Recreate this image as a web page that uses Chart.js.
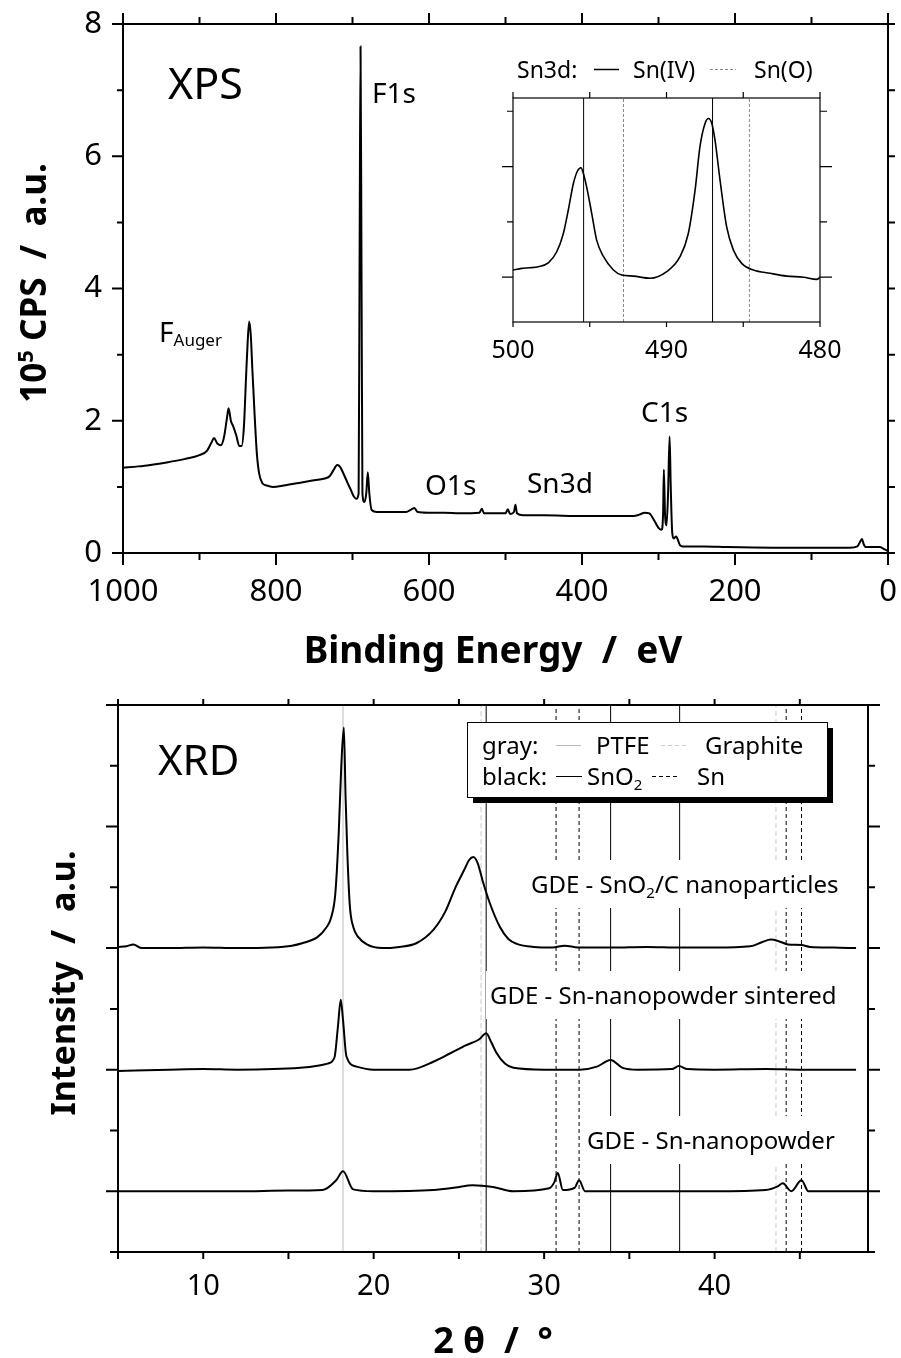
<!DOCTYPE html>
<html>
<head>
<meta charset="utf-8">
<script src="https://cdn.jsdelivr.net/npm/chart.js@4.4.0/dist/chart.umd.min.js"></script>
<style>
body { margin: 0; background: #fff; }
#wrap { position: relative; width: 901px; height: 1358px; }
canvas { position: absolute; }
</style>
</head>
<body>
<div id="wrap">
  <canvas id="xps" width="901" height="680" style="left:0;top:0"></canvas>
  <canvas id="inset" width="420" height="340" style="left:440px;top:40px"></canvas>
  <canvas id="xrd" width="901" height="678" style="left:0;top:680px"></canvas>
</div>
<script>
const FONT = "'Noto Sans', sans-serif";

// ---- XPS survey (binding energy in eV, counts in 10^5 CPS) ----
const xpsEnergy = [1000, 980, 960, 943, 920, 900, 890, 884, 881, 877, 872, 868, 864, 862, 859, 856, 852, 848, 845,
  842, 839, 837, 835, 833, 831, 828, 825, 822, 818, 812, 804, 790, 770, 750, 735, 730, 725, 720, 716, 711, 706,
  702, 698, 695, 692, 690.8, 689.5, 688.2, 687, 684.5, 682, 680, 678, 675, 668, 650, 630, 623, 619, 615, 600, 580,
  560, 534, 531, 528, 500, 497, 494, 489, 487, 485, 477, 450, 400, 360, 333, 325, 318, 312, 306, 300, 296, 294,
  293, 291.5, 289.5, 287.5, 285.5, 284, 282, 280, 277, 275, 272, 268, 240, 211, 150, 80, 50, 40, 36, 34, 32, 29,
  20, 11, 5, 0];
const xpsCounts = [1.29, 1.31, 1.34, 1.37, 1.42, 1.48, 1.55, 1.68, 1.74, 1.66, 1.63, 1.75, 2.05, 2.19, 2.0, 1.92, 1.78,
  1.62, 1.62, 1.9, 2.7, 3.2, 3.5, 3.3, 2.8, 2.1, 1.5, 1.2, 1.06, 1.02, 1.0, 1.02, 1.06, 1.1, 1.13, 1.16, 1.25,
  1.33, 1.3, 1.18, 1.05, 0.95, 0.85, 0.82, 0.9, 4.2, 7.66, 4.2, 0.9, 0.77, 0.9, 1.22, 0.9, 0.65, 0.62, 0.62, 0.62,
  0.66, 0.68, 0.62, 0.61, 0.61, 0.6, 0.61, 0.67, 0.6, 0.6, 0.66, 0.59, 0.62, 0.73, 0.6, 0.57, 0.57, 0.56, 0.56,
  0.56, 0.58, 0.61, 0.6, 0.5, 0.38, 0.35, 0.6, 1.26, 0.6, 0.42, 0.9, 1.76, 1.0, 0.3, 0.22, 0.25, 0.21, 0.12, 0.1,
  0.1, 0.09, 0.08, 0.08, 0.08, 0.1, 0.18, 0.21, 0.14, 0.09, 0.09, 0.09, 0.06, 0.03];
const xpsXLabels = [1000, 800, 600, 400, 200, 0];
const xpsXMinor = [900, 700, 500, 300, 100];
const xpsYLabels = [0, 2, 4, 6, 8];
const xpsYMinor = [1, 3, 5, 7];

// ---- Sn3d detail (inset) ----
const snEnergy = [500, 499.43, 498.9, 498.35, 497.7, 497.15, 496.72, 496.4, 496.07, 495.8, 495.57, 495.42, 495.2,
  494.87, 494.55, 494.1, 493.46, 492.92, 492.16, 491.07, 489.99, 489.12, 488.58, 488.14, 487.82, 487.49, 487.27,
  487.05, 486.84, 486.51, 486.08, 485.64, 485.1, 484.34, 483.25, 482.17, 481.08, 480.21, 480];
const snCounts = [0.13, 0.16, 0.17, 0.19, 0.26, 0.46, 0.79, 1.21, 1.69, 1.92, 1.98, 1.88, 1.63, 1.15, 0.67, 0.37,
  0.13, 0.04, 0.02, -0.02, 0.1, 0.37, 0.79, 1.57, 2.36, 2.78, 2.87, 2.78, 2.48, 1.75, 0.91, 0.49, 0.25, 0.13,
  0.07, 0.02, 0.0, -0.04, 0.0];
const snIVLines = [495.4, 487.0];
const sn0Lines = [492.8, 484.6];
const insetXTicks = [500, 495, 490, 485, 480];
const insetXLabels = [500, 490, 480];
const insetYMajor = [0, 2];
const insetYMinor = [1, 3];

// ---- XRD patterns (2 theta in degrees, offset intensity) ----
const snoCAngle = [5, 5.5, 5.9, 6.4, 8, 10, 12, 14, 15.2, 15.8, 16.7, 17.2, 17.5, 17.75, 17.95, 18.1, 18.25, 18.35,
  18.45, 18.6, 18.8, 19.1, 19.6, 20.5, 21.5, 22.5, 23.5, 24.2, 24.8, 25.3, 25.6, 25.85, 26.1, 26.4, 26.8, 27.4,
  27.9, 28.4, 29.4, 30.5, 31.2, 32, 34, 36, 38, 40, 42.1, 42.8, 43.3, 43.8, 44.3, 45.1, 45.6, 47, 48.3];
const snoCInt = [5.02, 5.03, 5.06, 5.0, 5.0, 5.01, 5.0, 5.01, 5.04, 5.08, 5.18, 5.33, 5.5, 5.9, 6.9, 8.0, 8.63, 7.5,
  6.6, 5.7, 5.35, 5.18, 5.06, 5.0, 5.02, 5.08, 5.3, 5.6, 6.0, 6.28, 6.45, 6.5, 6.4, 6.1, 5.75, 5.35, 5.15, 5.07,
  5.02, 5.01, 5.04, 5.01, 5.01, 5.02, 5.01, 5.01, 5.03, 5.1, 5.14, 5.11, 5.06, 5.05, 5.02, 5.01, 5.0];
const sinterAngle = [5, 8, 10, 12, 15.7, 16.8, 17.3, 17.7, 17.9, 18.07, 18.2, 18.4, 19, 20, 22.1, 23.5, 24.5, 25.4,
  26.2, 26.6, 26.9, 27.2, 27.7, 28.2, 30, 32.1, 33.1, 33.9, 34.6, 35.5, 37.5, 37.9, 38.4, 40, 43, 45, 48.3];
const sinterInt = [2.98, 3.0, 3.01, 3.0, 3.03, 3.07, 3.1, 3.2, 3.7, 4.15, 3.82, 3.22, 3.05, 3.0, 3.0, 3.13, 3.27, 3.4,
  3.5, 3.6, 3.45, 3.28, 3.1, 3.03, 3.0, 3.0, 3.05, 3.16, 3.03, 3.0, 3.01, 3.06, 3.01, 3.0, 3.01, 3.0, 3.0];
const powderAngle = [5, 8, 10, 12, 15, 17, 17.8, 18.2, 18.8, 20, 23.5, 24.8, 25.8, 27, 28.2, 30.3, 30.6, 30.8, 31.1,
  31.8, 32.05, 32.4, 35, 40, 43, 43.7, 44, 44.5, 45.1, 45.5, 49];
const powderInt = [1.0, 1.0, 1.0, 1.0, 1.01, 1.02, 1.18, 1.33, 1.03, 1.0, 1.02, 1.06, 1.1, 1.07, 1.0, 1.05, 1.15, 1.3,
  1.02, 1.06, 1.18, 1.0, 1.0, 1.0, 1.02, 1.08, 1.13, 1.0, 1.18, 1.0, 1.0];
const ptfeLines = [18.2];
const graphiteLines = [26.3, 43.6];
const sno2Lines = [26.6, 33.9, 37.95];
const snLines = [30.7, 32.05, 44.2, 45.1];
const xrdXLabels = [10, 20, 30, 40];
const xrdXMinor = [5, 15, 25, 35, 45];
const xrdYMajor = [1, 3, 5, 7, 9];
const xrdYMinor = [0, 2, 4, 6, 8];

// ---- helpers ----
function pts(xs, ys) {
  return xs.map((x, i) => ({ x: x, y: ys[i] }));
}

function vline(x, lo, hi, color, dash) {
  return {
    data: [{ x: x, y: lo }, { x: x, y: hi }],
    borderColor: color, borderWidth: 1, borderDash: dash || [],
    pointRadius: 0, order: 1
  };
}

function curve(data, width) {
  return {
    data: data, borderColor: '#000', borderWidth: width,
    pointRadius: 0, cubicInterpolationMode: 'monotone', order: 0
  };
}

// draws text made of several runs (for sub/superscripts)
function richText(ctx, parts, x, y, align) {
  let w = 0;
  parts.forEach(p => { ctx.font = p[1]; w += ctx.measureText(p[0]).width; });
  let cx = align === 'center' ? x - w / 2 : x;
  const left = cx;
  ctx.textAlign = 'left';
  parts.forEach(p => {
    ctx.font = p[1];
    ctx.fillText(p[0], cx, y + (p[2] || 0));
    cx += ctx.measureText(p[0]).width;
  });
  return { left: left, width: w };
}

// box frame plus ticks on all four sides
function framePlugin(cfg) {
  return {
    id: 'frame',
    afterDraw(chart) {
      const ctx = chart.ctx, a = chart.chartArea;
      const sx = chart.scales.x, sy = chart.scales.y;
      ctx.save();
      ctx.strokeStyle = '#000';
      ctx.lineWidth = cfg.lw;
      ctx.strokeRect(a.left, a.top, a.right - a.left, a.bottom - a.top);
      ctx.lineWidth = cfg.tw;
      ctx.beginPath();
      cfg.x.forEach(t => t[0].forEach(v => {
        const p = sx.getPixelForValue(v);
        ctx.moveTo(p, a.bottom); ctx.lineTo(p, a.bottom + t[1]);
        ctx.moveTo(p, a.top); ctx.lineTo(p, a.top - t[2]);
      }));
      cfg.y.forEach(t => t[0].forEach(v => {
        const p = sy.getPixelForValue(v);
        ctx.moveTo(a.left, p); ctx.lineTo(a.left - t[1], p);
        ctx.moveTo(a.right, p); ctx.lineTo(a.right + t[2], p);
      }));
      ctx.stroke();
      ctx.restore();
    }
  };
}

function noOverflow(s) {
  s.paddingLeft = 0; s.paddingRight = 0; s.paddingTop = 0; s.paddingBottom = 0;
}

function baseOptions(o) {
  return {
    responsive: false, animation: false, events: [],
    layout: { padding: o.padding },
    plugins: { legend: { display: false }, tooltip: { enabled: false } },
    scales: {
      x: {
        type: 'linear', reverse: !!o.reverse, min: o.xmin, max: o.xmax,
        grid: { display: false, drawTicks: false }, border: { display: false },
        afterBuildTicks: s => { s.ticks = o.xLabels.map(v => ({ value: v })); },
        afterFit: s => { s.height = o.xh; noOverflow(s); },
        ticks: {
          padding: o.xpad, color: '#000', maxRotation: 0, autoSkip: false,
          font: { family: FONT, size: o.xfs }, callback: v => String(v)
        }
      },
      y: {
        type: 'linear', min: o.ymin, max: o.ymax,
        grid: { display: false, drawTicks: false }, border: { display: false },
        afterBuildTicks: s => { s.ticks = (o.yLabels || []).map(v => ({ value: v })); },
        afterFit: s => { s.width = o.yw; noOverflow(s); },
        ticks: {
          display: !!o.yLabels, padding: o.ypad || 0, color: '#000',
          font: { family: FONT, size: o.yfs || 12 }, callback: v => String(v)
        }
      }
    }
  };
}

// ---- XPS main chart ----
const xpsText = {
  id: 'xpsText',
  afterDraw(chart) {
    const ctx = chart.ctx;
    ctx.save();
    ctx.fillStyle = '#000';
    ctx.textBaseline = 'alphabetic';
    ctx.textAlign = 'left';
    ctx.font = `43px ${FONT}`;
    ctx.fillText('XPS', 168, 99);
    ctx.font = `28px ${FONT}`;
    ctx.fillText('F1s', 372, 103);
    ctx.fillText('O1s', 425, 495);
    ctx.fillText('Sn3d', 527, 493);
    ctx.fillText('C1s', 641, 422);
    richText(ctx, [['F', `28px ${FONT}`], ['Auger', `17px ${FONT}`, 4]], 159, 342, 'left');
    ctx.font = `bold 37px ${FONT}`;
    ctx.textAlign = 'center';
    ctx.fillText('Binding Energy  /  eV', 493, 663);
    ctx.translate(46, 283);
    ctx.rotate(-Math.PI / 2);
    richText(ctx, [['10', `bold 35px ${FONT}`], ['5', `bold 22px ${FONT}`, -13],
      [' CPS  /  a.u.', `bold 35px ${FONT}`]], 0, 0, 'center');
    ctx.restore();
  }
};

new Chart(document.getElementById('xps'), {
  type: 'line',
  data: { datasets: [curve(pts(xpsEnergy, xpsCounts), 2)] },
  options: baseOptions({
    padding: { left: 0, top: 24, right: 13, bottom: 0 },
    reverse: true, xmin: 0, xmax: 1000, ymin: 0, ymax: 8,
    xLabels: xpsXLabels, yLabels: xpsYLabels,
    xh: 127, yw: 123, xpad: 21, ypad: 21, xfs: 31, yfs: 31
  }),
  plugins: [framePlugin({
    lw: 2, tw: 2,
    x: [[xpsXLabels, 12, 11], [xpsXMinor, 7, 7]],
    y: [[xpsYLabels, 11, 7], [xpsYMinor, 6, 7]]
  }), xpsText]
});

// ---- Sn3d inset ----
const insetText = {
  id: 'insetText',
  afterDraw(chart) {
    const ctx = chart.ctx;
    ctx.save();
    ctx.fillStyle = '#000';
    ctx.textBaseline = 'alphabetic';
    ctx.textAlign = 'left';
    ctx.font = `23px ${FONT}`;
    ctx.fillText('Sn3d:', 77, 38);
    ctx.fillText('Sn(IV)', 193, 38);
    ctx.fillText('Sn(O)', 314, 38);
    ctx.lineWidth = 1.5;
    ctx.strokeStyle = '#000';
    ctx.beginPath(); ctx.moveTo(154, 29.5); ctx.lineTo(179, 29.5); ctx.stroke();
    ctx.lineWidth = 1;
    ctx.strokeStyle = '#888';
    ctx.setLineDash([3, 2]);
    ctx.beginPath(); ctx.moveTo(270, 29.5); ctx.lineTo(296, 29.5); ctx.stroke();
    ctx.restore();
  }
};

const IN_MIN = -0.81, IN_MAX = 3.24;
new Chart(document.getElementById('inset'), {
  type: 'line',
  data: {
    datasets: [curve(pts(snEnergy, snCounts), 1.6)]
      .concat(snIVLines.map(v => vline(v, IN_MIN, IN_MAX, '#000')))
      .concat(sn0Lines.map(v => vline(v, IN_MIN, IN_MAX, '#888', [3, 2])))
  },
  options: baseOptions({
    padding: { left: 0, top: 58, right: 40, bottom: 0 },
    reverse: true, xmin: 480, xmax: 500, ymin: IN_MIN, ymax: IN_MAX,
    xLabels: insetXLabels, xh: 58, yw: 73, xpad: 14, xfs: 25
  }),
  plugins: [framePlugin({
    lw: 1.2, tw: 1.2,
    x: [[insetXTicks, 5, 6]],
    y: [[insetYMajor, 11, 12], [insetYMinor, 6, 7]]
  }), insetText]
});

// ---- XRD chart ----
const labelFont = `24px ${FONT}`;
const subFont = `15px ${FONT}`;
const xrdText = {
  id: 'xrdText',
  afterDatasetsDraw(chart) {
    const ctx = chart.ctx;
    ctx.save();
    ctx.textBaseline = 'alphabetic';
    // sample labels on white boxes
    const labels = [
      [[['GDE - SnO', labelFont], ['2', subFont, 5], ['/C nanoparticles', labelFont]], 531, 213],
      [[['GDE - Sn-nanopowder sintered', labelFont]], 490, 324],
      [[['GDE - Sn-nanopowder', labelFont]], 587, 469]
    ];
    labels.forEach(l => {
      let w = 0;
      l[0].forEach(p => { ctx.font = p[1]; w += ctx.measureText(p[0]).width; });
      ctx.fillStyle = '#fff';
      ctx.fillRect(l[1] - 4, l[2] - 33, w + 8, 48);
      ctx.fillStyle = '#000';
      richText(ctx, l[0], l[1], l[2], 'left');
    });
    // legend box with shadow
    ctx.fillStyle = '#000';
    ctx.fillRect(473, 48, 360, 75);
    ctx.fillStyle = '#fff';
    ctx.fillRect(467, 42, 360, 75);
    ctx.strokeStyle = '#000';
    ctx.lineWidth = 1;
    ctx.strokeRect(467.5, 42.5, 360, 75);
    ctx.fillStyle = '#000';
    ctx.textAlign = 'left';
    ctx.font = labelFont;
    ctx.fillText('gray:', 482, 74);
    ctx.fillText('PTFE', 596, 74);
    ctx.fillText('Graphite', 705, 74);
    ctx.fillText('black:', 482, 105);
    richText(ctx, [['SnO', labelFont], ['2', subFont, 5]], 587, 105, 'left');
    ctx.font = labelFont;
    ctx.fillText('Sn', 697, 105);
    const seg = (x1, x2, y, color, dash) => {
      ctx.strokeStyle = color;
      ctx.setLineDash(dash);
      ctx.beginPath(); ctx.moveTo(x1, y); ctx.lineTo(x2, y); ctx.stroke();
    };
    seg(556, 581, 65.5, '#bbb', []);
    seg(661, 686, 65.5, '#ccc', [4, 3]);
    seg(556, 582, 96.5, '#000', []);
    seg(652, 678, 96.5, '#000', [4, 3]);
    ctx.restore();
  },
  afterDraw(chart) {
    const ctx = chart.ctx;
    ctx.save();
    ctx.fillStyle = '#000';
    ctx.textBaseline = 'alphabetic';
    ctx.textAlign = 'left';
    ctx.font = `42px ${FONT}`;
    ctx.fillText('XRD', 158, 95);
    ctx.font = `bold 36px ${FONT}`;
    ctx.textAlign = 'center';
    ctx.fillText('2 \u03b8  /  \u00b0', 493, 673);
    ctx.font = `bold 34px ${FONT}`;
    ctx.translate(75, 303);
    ctx.rotate(-Math.PI / 2);
    ctx.fillText('Intensity  /  a.u.', 0, 0);
    ctx.restore();
  }
};

const XRD_MIN = 0, XRD_MAX = 9;
new Chart(document.getElementById('xrd'), {
  type: 'line',
  data: {
    datasets: [
      curve(pts(snoCAngle, snoCInt), 2),
      curve(pts(sinterAngle, sinterInt), 2),
      curve(pts(powderAngle, powderInt), 2)
    ]
      .concat(ptfeLines.map(v => vline(v, XRD_MIN, XRD_MAX, '#bbb')))
      .concat(graphiteLines.map(v => vline(v, XRD_MIN, XRD_MAX, '#c8c8c8', [5, 3])))
      .concat(sno2Lines.map(v => vline(v, XRD_MIN, XRD_MAX, '#000')))
      .concat(snLines.map(v => vline(v, XRD_MIN, XRD_MAX, '#000', [4, 3])))
  },
  options: baseOptions({
    padding: { left: 0, top: 25, right: 33, bottom: 0 },
    xmin: 5, xmax: 49, ymin: XRD_MIN, ymax: XRD_MAX,
    xLabels: xrdXLabels, xh: 106, yw: 118, xpad: 17, xfs: 29
  }),
  plugins: [framePlugin({
    lw: 2, tw: 2,
    x: [[xrdXLabels, 7, 6], [xrdXMinor, 7, 6]],
    y: [[xrdYMajor, 12, 12], [xrdYMinor, 8, 7]]
  }), xrdText]
});
</script>
</body>
</html>
